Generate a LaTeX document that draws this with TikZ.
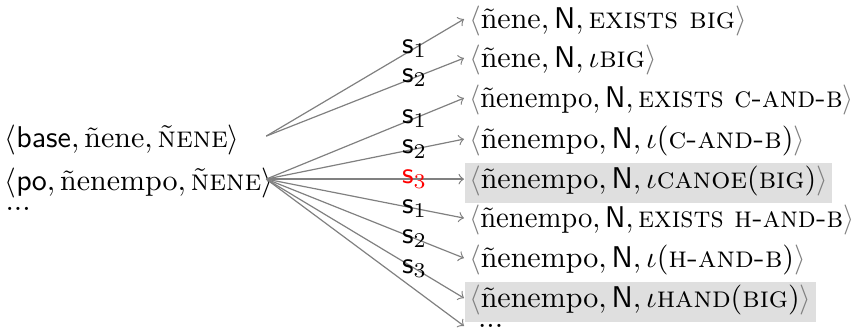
\documentclass[tikz,border=0pt]{standalone}
\usepackage{amsmath}
\usepackage{fontspec}
\usetikzlibrary{arrows}
\newcommand{\lb}{{\color{gray}\langle}}
\newcommand{\rb}{{\color{gray}\rangle}}
\tikzset{
  lefttree/.style={anchor=west, inner sep=0pt, text width=87pt, align=left},
  lexitem/.style={anchor=west, inner xsep=1.5pt, inner ysep=1.2pt, text height=7.5pt, text depth=3.5pt},
  picked/.style={lexitem, fill=gray!25},
  rule/.style={->, gray, line width=0.4pt},
  lab/.style={pos=0.75, inner sep=0pt, text=black}
}

\begin{document}
\begin{tikzpicture}[x=0.3333pt, y=-0.3333pt]
\useasboundingbox (0,0) rectangle (859,333);
\node[lefttree] (base) at (4,140) {$\langle\mathsf{base}, \text{ñene}, \textsc{ñene}\rangle$};
\node[lefttree] (po) at (4,183) {$\langle\mathsf{po}, \text{ñenempo}, \textsc{ñene}\rangle$};
\node[lefttree] (lmore) at (5,209) {...};

\node[lexitem] (r1) at (464,23) {$\lb\text{ñene}, \mathsf{N}, \textsc{exists big}\rb$};
\node[lexitem] (r2) at (464,62) {$\lb\text{ñene}, \mathsf{N}, \iota\textsc{big}\rb$};
\node[lexitem] (r3) at (464,102) {\scalebox{0.955}[1]{$\lb\text{ñenempo}, \mathsf{N}, \textsc{exists c-and-b}\rb$}};
\node[lexitem] (r4) at (464,143) {$\lb\text{ñenempo}, \mathsf{N}, \iota(\textsc{c-and-b})\rb$};
\node[picked] (r5) at (464,183) {$\lb\text{ñenempo}, \mathsf{N}, \iota\textsc{canoe}(\textsc{big})\rb$};
\node[lexitem] (r6) at (464,222) {\scalebox{0.955}[1]{$\lb\text{ñenempo}, \mathsf{N}, \textsc{exists h-and-b}\rb$}};
\node[lexitem] (r7) at (464,262) {$\lb\text{ñenempo}, \mathsf{N}, \iota(\textsc{h-and-b})\rb$};
\node[picked] (r8) at (464,302) {$\lb\text{ñenempo}, \mathsf{N}, \iota\textsc{hand}(\textsc{big})\rb$};
\node[anchor=west, inner xsep=4.5pt, inner ysep=0pt] (rmore) at (464,326) {...};

\coordinate (bstart) at ([yshift=1.3pt]base.east);
\coordinate (pstart) at ([yshift=1.3pt]po.east);
\foreach \t/\l in {r1/1, r2/2}
  \draw[rule] (bstart) -- node[lab] {$\mathsf{s}_\l$} ([yshift=1.3pt]\t.west);
\foreach \t/\l in {r3/1, r4/2, r6/1, r7/2, r8/3}
  \draw[rule] (pstart) -- node[lab] {$\mathsf{s}_\l$} ([yshift=1.3pt]\t.west);
\draw[rule] (pstart) -- node[lab, red] {$\mathsf{s}_3$} ([yshift=1.3pt]r5.west);
\draw[rule] (pstart) -- (rmore.west);
\end{tikzpicture}
\end{document}
